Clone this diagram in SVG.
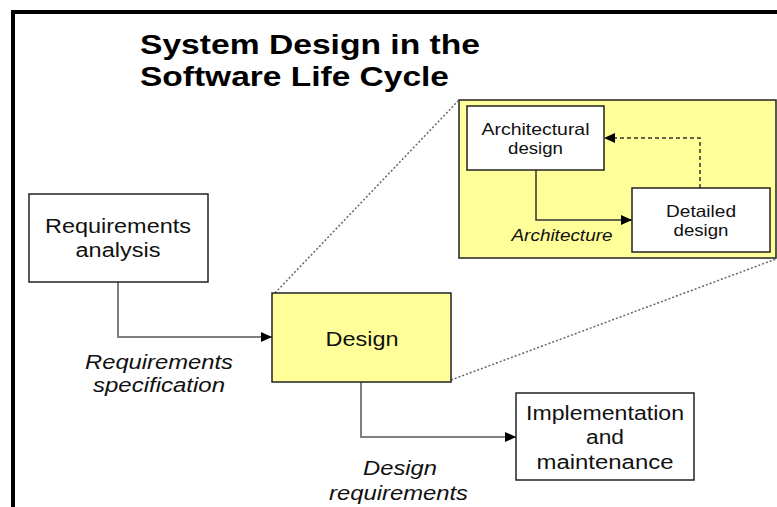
<svg xmlns="http://www.w3.org/2000/svg" width="777" height="507" viewBox="0 0 777 507">
  <style>
    .box { fill: #ffffff; stroke: #222222; stroke-width: 1.5; }
    .yel { fill: #ffff99; stroke: #222222; stroke-width: 1.5; }
    .t { font-family: "Liberation Sans", Arial, sans-serif; fill: #111111; text-anchor: middle; }
    .n19 { font-size: 20px; }
    .n16 { font-size: 16.5px; }
    .it { font-style: italic; }
    .title { font-family: "Liberation Sans", Arial, sans-serif; font-weight: bold; font-size: 27px; fill: #000000; }
    .conn { fill: none; stroke: #7f7f7f; stroke-width: 2; }
    .inner { fill: none; stroke: #333333; stroke-width: 1.5; }
    .dash { fill: none; stroke: #333333; stroke-width: 1.5; stroke-dasharray: 4 3; }
    .dot { fill: none; stroke: #666666; stroke-width: 1.5; stroke-dasharray: 2 2; }
  </style>
  <defs>
    <marker id="arr" markerUnits="userSpaceOnUse" markerWidth="12" markerHeight="10" refX="11" refY="5" orient="auto">
      <path d="M0,0 L11,5 L0,10 z" fill="#000000"/>
    </marker>
  </defs>

  <rect x="0" y="0" width="777" height="507" fill="#ffffff"/>
  <path d="M13 507 V12 H777" fill="none" stroke="#000000" stroke-width="4"/>

  <g id="title">
    <text class="title" x="140" y="54" textLength="340" lengthAdjust="spacingAndGlyphs">System Design in the</text>
    <text class="title" x="140" y="86" textLength="309" lengthAdjust="spacingAndGlyphs">Software Life Cycle</text>
  </g>

  <g id="node-architecture-detail">
    <rect class="yel" x="459" y="100" width="317" height="158"/>
  </g>

  <g id="connectors">
    <path class="dot" d="M275 293 L459 100"/>
    <path class="dot" d="M451 380 L776 259"/>
    <path class="conn" d="M118 282 V337 H272" marker-end="url(#arr)"/>
    <path class="conn" d="M361 382 V437 H516" marker-end="url(#arr)"/>
    <path class="inner" d="M536 170 V220 H632" marker-end="url(#arr)"/>
    <path class="dash" d="M700 188 V138 H604" marker-end="url(#arr)"/>
  </g>

  <g id="label-architecture">
    <text class="t n16 it" x="562" y="241" textLength="101" lengthAdjust="spacingAndGlyphs">Architecture</text>
  </g>

  <g id="node-architectural-design">
    <rect class="box" x="467" y="106" width="137" height="64"/>
    <text class="t n16" x="535.5" y="135" textLength="108" lengthAdjust="spacingAndGlyphs">Architectural</text>
    <text class="t n16" x="535.5" y="154" textLength="55" lengthAdjust="spacingAndGlyphs">design</text>
  </g>

  <g id="node-detailed-design">
    <rect class="box" x="632" y="188" width="138" height="64"/>
    <text class="t n16" x="701" y="217" textLength="70" lengthAdjust="spacingAndGlyphs">Detailed</text>
    <text class="t n16" x="701" y="236" textLength="55" lengthAdjust="spacingAndGlyphs">design</text>
  </g>

  <g id="node-requirements-analysis">
    <rect class="box" x="29" y="194" width="179" height="88"/>
    <text class="t n19" x="118" y="233" textLength="146" lengthAdjust="spacingAndGlyphs">Requirements</text>
    <text class="t n19" x="118" y="257" textLength="85" lengthAdjust="spacingAndGlyphs">analysis</text>
  </g>

  <g id="node-design">
    <rect class="yel" x="272" y="293" width="179" height="89"/>
    <text class="t n19" x="362" y="346" textLength="73" lengthAdjust="spacingAndGlyphs">Design</text>
  </g>

  <g id="node-implementation">
    <rect class="box" x="516" y="393" width="178" height="87"/>
    <text class="t n19" x="605" y="420" textLength="158" lengthAdjust="spacingAndGlyphs">Implementation</text>
    <text class="t n19" x="605" y="444" textLength="38" lengthAdjust="spacingAndGlyphs">and</text>
    <text class="t n19" x="605" y="469" textLength="137" lengthAdjust="spacingAndGlyphs">maintenance</text>
  </g>

  <g id="label-requirements-specification">
    <text class="t n19 it" x="159" y="369" textLength="148" lengthAdjust="spacingAndGlyphs">Requirements</text>
    <text class="t n19 it" x="159" y="392" textLength="132" lengthAdjust="spacingAndGlyphs">specification</text>
  </g>

  <g id="label-design-requirements">
    <text class="t n19 it" x="400" y="475" textLength="74" lengthAdjust="spacingAndGlyphs">Design</text>
    <text class="t n19 it" x="398.5" y="500" textLength="139" lengthAdjust="spacingAndGlyphs">requirements</text>
  </g>
</svg>
